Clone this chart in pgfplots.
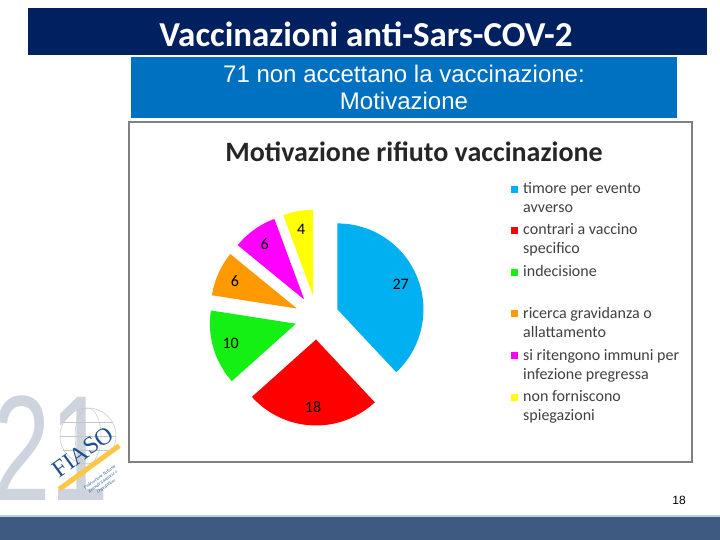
\documentclass[border=0pt]{standalone}
\usepackage{fontspec}
\setmainfont{Carlito}
\newfontfamily\arial{Liberation Sans}
\newfontfamily\tnr{Liberation Serif}
\usepackage{pgfplots}
\pgfplotsset{compat=1.18}
\definecolor{navy}{RGB}{0,32,96}
\definecolor{boxblue}{RGB}{0,112,192}
\definecolor{barblue}{RGB}{62,90,128}
\definecolor{barline}{RGB}{190,205,225}
\definecolor{cBlue}{RGB}{0,176,240}
\definecolor{cRed}{RGB}{255,0,0}
\definecolor{cGreen}{RGB}{20,240,20}
\definecolor{cOrange}{RGB}{255,153,0}
\definecolor{cMagenta}{RGB}{255,0,255}
\definecolor{cYellow}{RGB}{255,255,0}
\definecolor{legtext}{RGB}{64,64,64}
\definecolor{logogray}{RGB}{205,212,222}
\definecolor{logoblue}{RGB}{31,78,140}
\definecolor{logoyellow}{RGB}{250,200,70}
\newcommand\pielab{\fontsize{16bp}{18bp}\selectfont}
\newcommand\legfont{\fontsize{16bp}{19bp}\selectfont}
% values: timore 27, contrari 18, indecisione 10, gravidanza 6, immuni 6, nessuna 4 (total 71)
% #1 = cumulative before, #2 = value, #3 = colour
\newcommand\pieslice[3]{%
 \pgfmathsetmacro\sa{90-(#1+#2)*(360/71)}%
 \pgfmathsetmacro\ea{90-(#1)*(360/71)}%
 \pgfmathsetmacro\ma{(\sa+\ea)/2}%
 \pgfmathsetmacro\ax{317+22*cos(\ma)}%
 \pgfmathsetmacro\ay{317.5-22*sin(\ma)}%
 \pgfmathsetmacro\lx{\ax+68*cos(\ma)}%
 \pgfmathsetmacro\ly{\ay-68*sin(\ma)}%
 \edef\temp{%
  \noexpand\addplot[fill=#3,draw=none,domain=\sa:\ea,samples=80,variable=\noexpand\t]
   ({\ax+86*cos(\noexpand\t)},{\ay-86*sin(\noexpand\t)}) -- (axis cs:\ax,\ay) -- cycle;
  \noexpand\node[font=\noexpand\pielab,text=black] at (axis cs:\lx,\ly) {#2};
 }\temp}
\newcommand\legitem[4]{% y baseline, colour, line1, line2
 \fill[#2] (axis cs:510.5,#1-8) rectangle (axis cs:517.5,#1-1);
 \node[anchor=base west,inner sep=0,font=\legfont,text=legtext] at (axis cs:523,#1) {#3};
 \node[anchor=base west,inner sep=0,font=\legfont,text=legtext] at (axis cs:523,#1+19) {#4};
}
\begin{document}
\begin{tikzpicture}
\begin{axis}[width=720bp,height=540bp,scale only axis,
  xmin=0,xmax=720,ymin=0,ymax=540,y dir=reverse,hide axis,clip=false]
% slide decorations
\fill[navy] (axis cs:28,8) rectangle (axis cs:707,55);
\node[font=\bfseries\fontsize{35bp}{40bp}\selectfont,text=white] at (axis cs:366,34) {Vaccinazioni anti-Sars-COV-2};
\fill[boxblue] (axis cs:131,57) rectangle (axis cs:677,118);
\node[anchor=base,inner sep=0,font=\arial\fontsize{24bp}{28bp}\selectfont,text=white] at (axis cs:404,82.5) {71 non accettano la vaccinazione:};
\node[anchor=base,inner sep=0,font=\arial\fontsize{24bp}{28bp}\selectfont,text=white] at (axis cs:404,110) {Motivazione};
\draw[fill=white,draw={rgb,255:red,128;green,128;blue,128},line width=1.5bp] (axis cs:129,122) rectangle (axis cs:692,462);
\node[anchor=base,inner sep=0,font=\bfseries\fontsize{28bp}{32bp}\selectfont,text={rgb,255:red,38;green,38;blue,38}] at (axis cs:414,162) {Motivazione rifiuto vaccinazione};
\fill[barline] (axis cs:0,515) rectangle (axis cs:720,517);
\fill[barblue] (axis cs:0,517) rectangle (axis cs:720,540);
\node[font=\arial\fontsize{12bp}{14bp}\selectfont,text=black] at (axis cs:679,500) {18};
% logo
\node[anchor=base west,inner sep=0,xscale=0.7,font=\arial\fontsize{150bp}{150bp}\selectfont,text=logogray] at (axis cs:-8,500) {21};
\draw[gray!45,line width=0.5bp] (axis cs:88,436) circle [radius=28bp];
\draw[gray!45,line width=0.5bp] (axis cs:88,436) ellipse [x radius=13bp,y radius=28bp];
\draw[gray!45,line width=0.5bp] (axis cs:60,436) -- (axis cs:116,436);
\draw[gray!45,line width=0.5bp] (axis cs:63,422) -- (axis cs:113,422);
\draw[gray!45,line width=0.5bp] (axis cs:63,450) -- (axis cs:113,450);
\fill[logoyellow,rotate around={36:(axis cs:89,467)}] (axis cs:52,465) rectangle (axis cs:126,470);
\node[rotate=36,inner sep=0,font=\tnr\fontsize{24bp}{24bp}\selectfont,text=logoblue] at (axis cs:83,452) {FIASO};
\node[rotate=36,inner sep=0,align=center,font=\tnr\itshape\fontsize{4.5bp}{5.5bp}\selectfont,text=logoblue] at (axis cs:103,482) {Federazione Italiana\\Aziende Sanitarie e\\Ospedaliere};
% pie
\pieslice{0}{27}{cBlue}
\pieslice{27}{18}{cRed}
\pieslice{45}{10}{cGreen}
\pieslice{55}{6}{cOrange}
\pieslice{61}{6}{cMagenta}
\pieslice{67}{4}{cYellow}
% legend
\legitem{194}{cBlue}{timore per evento}{avverso}
\legitem{235}{cRed}{contrari a vaccino}{specifico}
\legitem{277}{cGreen}{indecisione}{}
\legitem{318}{cOrange}{ricerca gravidanza o}{allattamento}
\legitem{360}{cMagenta}{si ritengono immuni per}{infezione pregressa}
\legitem{401.5}{cYellow}{non forniscono}{spiegazioni}
\end{axis}
\pgfresetboundingbox
\path (current axis.south west) rectangle (current axis.north east);
\end{tikzpicture}
\end{document}
